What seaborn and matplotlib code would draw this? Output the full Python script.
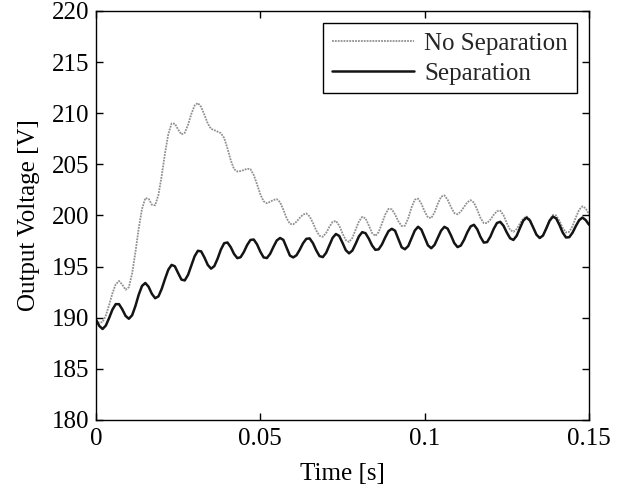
import numpy as np
import pandas as pd
import matplotlib
matplotlib.use("Agg")
import matplotlib.pyplot as plt
import seaborn as sns

# ---- data (1 ms sampling) ----
time_ms = np.arange(0, 151)

separation = [
    189.80, 189.20, 188.90, 189.24, 189.98, 190.80, 191.33, 191.33, 190.82, 190.18,
    189.90, 190.25, 191.15, 192.26, 193.11, 193.40, 193.03, 192.34, 191.91, 192.09,
    192.83, 193.80, 194.70, 195.17, 195.03, 194.36, 193.73, 193.65, 194.19, 195.10,
    196.01, 196.55, 196.49, 195.89, 195.17, 194.80, 195.05, 195.78, 196.67, 197.29,
    197.36, 196.90, 196.24, 195.83, 195.92, 196.44, 197.12, 197.61, 197.65, 197.18,
    196.46, 195.90, 195.84, 196.26, 196.94, 197.56, 197.80, 197.62, 196.85, 196.08,
    195.90, 196.11, 196.66, 197.29, 197.72, 197.76, 197.30, 196.60, 196.03, 195.93,
    196.34, 197.09, 197.82, 198.19, 198.00, 197.33, 196.61, 196.30, 196.57, 197.23,
    197.96, 198.37, 198.27, 197.74, 197.07, 196.64, 196.69, 197.17, 197.86, 198.47,
    198.70, 198.51, 197.70, 196.89, 196.70, 197.01, 197.76, 198.53, 198.90, 198.62,
    197.85, 197.08, 196.80, 197.12, 197.81, 198.52, 198.89, 198.71, 198.06, 197.31,
    196.91, 197.06, 197.63, 198.37, 198.94, 199.09, 198.65, 197.89, 197.35, 197.40,
    197.94, 198.69, 199.27, 199.38, 198.99, 198.33, 197.77, 197.61, 198.02, 198.78,
    199.50, 199.80, 199.52, 198.84, 198.13, 197.80, 198.04, 198.73, 199.48, 199.89,
    199.72, 199.08, 198.33, 197.85, 197.88, 198.32, 198.97, 199.54, 199.80, 199.55,
    199.10,
]

no_separation = [
    189.80, 189.50, 189.58, 190.22, 191.26, 192.40, 193.27, 193.60, 193.24, 192.74,
    192.99, 194.35, 196.43, 198.75, 200.64, 201.70, 201.64, 201.05, 201.00, 202.02,
    203.91, 206.09, 207.97, 209.00, 208.98, 208.40, 207.93, 208.08, 208.87, 209.93,
    210.76, 211.00, 210.61, 209.83, 209.00, 208.47, 208.35, 208.20, 208.05, 207.58,
    206.56, 205.40, 204.54, 204.30, 204.35, 204.45, 204.58, 204.53, 203.96, 203.05,
    202.07, 201.39, 201.20, 201.35, 201.52, 201.60, 201.31, 200.57, 199.73, 199.18,
    199.14, 199.39, 199.77, 200.09, 200.20, 199.91, 199.28, 198.54, 198.02, 197.92,
    198.28, 198.89, 199.38, 199.47, 199.02, 198.25, 197.59, 197.41, 197.81, 198.61,
    199.42, 199.87, 199.73, 199.03, 198.28, 198.00, 198.38, 199.21, 200.10, 200.65,
    200.61, 200.10, 199.43, 198.97, 199.00, 199.73, 200.78, 201.55, 201.65, 201.15,
    200.39, 199.81, 199.75, 200.30, 201.15, 201.84, 201.97, 201.54, 200.83, 200.24,
    200.12, 200.38, 200.85, 201.30, 201.50, 201.26, 200.56, 199.75, 199.25, 199.26,
    199.60, 200.06, 200.42, 200.47, 200.02, 199.25, 198.59, 198.41, 198.68, 199.21,
    199.70, 199.90, 199.61, 198.89, 198.15, 197.80, 198.04, 198.74, 199.55, 200.05,
    200.00, 199.48, 198.79, 198.34, 198.40, 198.97, 199.82, 200.56, 200.90, 200.70,
    200.10,
]

series_names = ["No Separation", "Separation"]
x_ticks = [0, 0.05, 0.1, 0.15]
x_tick_labels = ["0", "0.05", "0.1", "0.15"]
y_ticks = [180, 185, 190, 195, 200, 205, 210, 215, 220]

assert len(separation) == len(time_ms) == len(no_separation)
time_s = time_ms / 1000.0

# ---- style ----
sns.set_theme(style="white")
plt.rcParams["font.family"] = ["Liberation Serif", "DejaVu Serif"]

fig = plt.figure(figsize=(6.3, 4.9), dpi=100)
ax = fig.add_axes([96 / 630, 1 - 420 / 490, (589 - 96) / 630, (420 - 11) / 490])

sns.lineplot(x=time_s, y=no_separation, ax=ax, color="#909090",
             linewidth=1.3, linestyle=(0, (1, 0.6)), label=series_names[0],
             sort=False, estimator=None)
sns.lineplot(x=time_s, y=separation, ax=ax, color="#141414",
             linewidth=1.8, linestyle="-", label=series_names[1],
             sort=False, estimator=None)

ax.set_xlim(0, 0.15)
ax.set_ylim(180, 220)
ax.set_xticks(x_ticks)
ax.set_xticklabels(x_tick_labels)
ax.set_yticks(y_ticks)
ax.set_yticklabels([str(v) for v in y_ticks])

for side in ["top", "bottom", "left", "right"]:
    ax.spines[side].set_visible(True)
    ax.spines[side].set_color("black")
    ax.spines[side].set_linewidth(1.0)

ax.tick_params(axis="both", which="both", direction="in", length=5, width=1,
               colors="black", labelsize=18, top=True, right=True,
               bottom=True, left=True, pad=5)
ax.tick_params(axis="x", pad=6)
ax.set_xlabel("Time [s]", fontsize=18, color="black", labelpad=9)
ax.set_ylabel("Output Voltage [V]", fontsize=18, color="black", labelpad=8)
ax.grid(False)

leg = ax.legend(loc="upper right", fontsize=18, frameon=True, fancybox=False,
                edgecolor="black", framealpha=1, handlelength=3.3,
                borderaxespad=0.5, borderpad=0.35, labelspacing=0.3,
                handletextpad=0.4)
leg.get_frame().set_linewidth(1.0)

fig.savefig("out.png", dpi=100, facecolor="white")
